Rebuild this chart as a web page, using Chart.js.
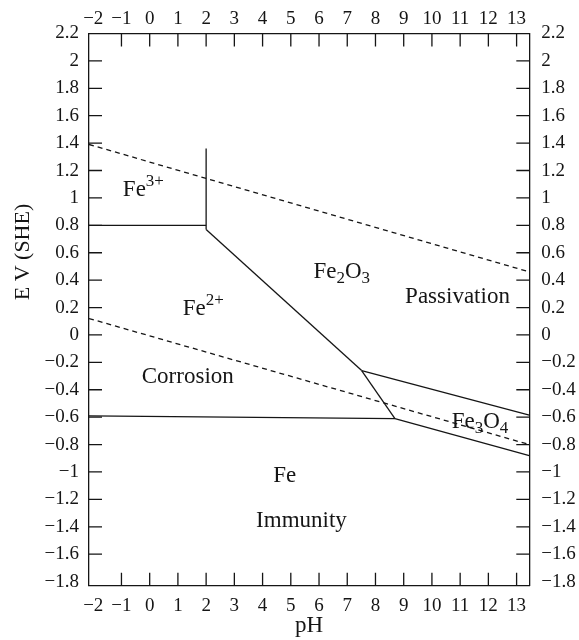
<!DOCTYPE html>
<html>
<head>
<meta charset="utf-8">
<script src="https://cdn.jsdelivr.net/npm/chart.js@4.4.1/dist/chart.umd.min.js"></script>
<style>
    body { margin: 0; background: #fff; }
    #wrap { width: 579px; height: 640px; position: relative; }
</style>
</head>
<body>
<div id="wrap"><canvas id="pourbaix"></canvas></div>
<script>
// axis ticks
var phTicks = [-2, -1, 0, 1, 2, 3, 4, 5, 6, 7, 8, 9, 10, 11, 12, 13];
var potentialTicks = [2.2, 2, 1.8, 1.6, 1.4, 1.2, 1, 0.8, 0.6, 0.4, 0.2, 0,
    -0.2, -0.4, -0.6, -0.8, -1, -1.2, -1.4, -1.6, -1.8];

// water stability lines (dashed)
var oxygenPH = [-2.15, 13.45];
var oxygenE = [1.39, 0.46];
var hydrogenPH = [-2.15, 13.45];
var hydrogenE = [0.12, -0.80];

// phase boundaries (solid)
var fe3Fe2PH = [-2.15, 2.0];
var fe3Fe2E = [0.80, 0.80];
var fe3VerticalPH = [2.0, 2.0];
var fe3VerticalE = [1.36, 0.77];
var fe2Fe2o3PH = [2.0, 7.51];
var fe2Fe2o3E = [0.77, -0.26];
var fe2o3Fe3o4PH = [7.51, 13.45];
var fe2o3Fe3o4E = [-0.26, -0.585];
var fe2Fe3o4PH = [7.51, 8.69];
var fe2Fe3o4E = [-0.26, -0.61];
var feFe2PH = [-2.15, 8.69];
var feFe2E = [-0.59, -0.61];
var feFe3o4PH = [8.69, 13.45];
var feFe3o4E = [-0.61, -0.88];

// region names: pieces of [text, kind]
var regionText = [
    [['Fe', ''], ['3+', 'sup']],
    [['Fe', ''], ['2+', 'sup']],
    [['Fe', ''], ['2', 'sub'], ['O', ''], ['3', 'sub']],
    [['Passivation', '']],
    [['Corrosion', '']],
    [['Fe', ''], ['3', 'sub'], ['O', ''], ['4', 'sub']],
    [['Fe', '']],
    [['Immunity', '']]
];
var regionPH = [-0.95, 1.17, 5.80, 9.05, -0.28, 10.70, 4.38, 3.77];
var regionE = [1.016, 0.145, 0.413, 0.231, -0.349, -0.682, -1.072, -1.399];

var serif = '"Liberation Serif", "Times New Roman", serif';
var ink = '#151515';

var toPairs = function (xs, ys) {
    var out = [];
    for (var i = 0; i < xs.length; i++) {
        out.push({x: xs[i], y: ys[i]});
    }
    return out;
};

var boundary = function (xs, ys, dashed) {
    return {
        data: toPairs(xs, ys),
        showLine: true,
        borderColor: ink,
        borderWidth: 1.3,
        borderDash: dashed ? [5, 4] : [],
        pointRadius: 0,
        fill: false
    };
};

var fmt = function (v) {
    var n = parseFloat(Number(v).toFixed(1));
    return n < 0 ? '\u2212' + Math.abs(n) : String(n);
};

var fixTicks = function (values) {
    return function (scale) {
        scale.ticks = values.map(function (v) { return {value: v}; });
    };
};

var tickFont = {family: serif, size: 19};

// inward tick marks, axis title and region names
var decorations = {
    id: 'decorations',
    afterDraw: function (chart) {
        var ctx = chart.ctx;
        var area = chart.chartArea;
        var sx = chart.scales.x;
        var sy = chart.scales.y;
        var len = 13;
        ctx.save();
        ctx.strokeStyle = ink;
        ctx.lineWidth = 1.3;
        ctx.beginPath();
        phTicks.forEach(function (v) {
            if (v <= -2) return;
            var px = sx.getPixelForValue(v);
            ctx.moveTo(px, area.bottom);
            ctx.lineTo(px, area.bottom - len);
            ctx.moveTo(px, area.top);
            ctx.lineTo(px, area.top + len);
        });
        potentialTicks.forEach(function (v) {
            if (v >= 2.2 || v <= -1.8) return;
            var py = sy.getPixelForValue(v);
            ctx.moveTo(area.left, py);
            ctx.lineTo(area.left + len, py);
            ctx.moveTo(area.right, py);
            ctx.lineTo(area.right - len, py);
        });
        ctx.stroke();

        // y title, sits above the middle of the axis in the original
        ctx.fillStyle = ink;
        ctx.save();
        ctx.translate(28.5, 252);
        ctx.rotate(-Math.PI / 2);
        ctx.font = '22px ' + serif;
        ctx.textAlign = 'center';
        ctx.textBaseline = 'alphabetic';
        ctx.fillText('E V (SHE)', 0, 0);
        ctx.restore();

        ctx.textAlign = 'left';
        ctx.textBaseline = 'alphabetic';
        regionText.forEach(function (pieces, i) {
            var x = sx.getPixelForValue(regionPH[i]);
            var y = sy.getPixelForValue(regionE[i]);
            pieces.forEach(function (p) {
                var dy = 0;
                if (p[1] === 'sup') {
                    ctx.font = '17px ' + serif;
                    dy = -10;
                } else if (p[1] === 'sub') {
                    ctx.font = '17px ' + serif;
                    dy = 5;
                } else {
                    ctx.font = '23px ' + serif;
                }
                ctx.fillText(p[0], x, y + dy);
                x += ctx.measureText(p[0]).width;
            });
        });
        ctx.restore();
    }
};

new Chart(document.getElementById('pourbaix').getContext('2d'), {
    type: 'scatter',
    data: {
        datasets: [
            boundary(oxygenPH, oxygenE, true),
            boundary(hydrogenPH, hydrogenE, true),
            boundary(fe3Fe2PH, fe3Fe2E, false),
            boundary(fe3VerticalPH, fe3VerticalE, false),
            boundary(fe2Fe2o3PH, fe2Fe2o3E, false),
            boundary(fe2o3Fe3o4PH, fe2o3Fe3o4E, false),
            boundary(fe2Fe3o4PH, fe2Fe3o4E, false),
            boundary(feFe2PH, feFe2E, false),
            boundary(feFe3o4PH, feFe3o4E, false)
        ]
    },
    options: {
        responsive: true,
        maintainAspectRatio: false,
        animation: false,
        layout: {padding: 0},
        plugins: {
            legend: {display: false},
            tooltip: {enabled: false}
        },
        scales: {
            x: {
                type: 'linear',
                position: 'bottom',
                min: -2.15,
                max: 13.45,
                afterBuildTicks: fixTicks(phTicks),
                afterFit: function (s) { s.height = 54.3; },
                grid: {display: false, drawTicks: false},
                border: {display: true, color: ink, width: 1.3},
                ticks: {
                    autoSkip: false, maxRotation: 0, padding: 9,
                    color: ink, font: tickFont, callback: fmt
                },
                title: {
                    display: true, text: 'pH', color: ink,
                    font: {family: serif, size: 23}, padding: 0
                }
            },
            x2: {
                type: 'linear',
                position: 'top',
                min: -2.15,
                max: 13.45,
                afterBuildTicks: fixTicks(phTicks),
                afterFit: function (s) { s.height = 33.5; },
                grid: {display: false, drawTicks: false},
                border: {display: true, color: ink, width: 1.3},
                ticks: {
                    autoSkip: false, maxRotation: 0, padding: 3,
                    color: ink, font: tickFont, callback: fmt
                }
            },
            y: {
                type: 'linear',
                position: 'left',
                min: -1.83,
                max: 2.2,
                afterBuildTicks: fixTicks(potentialTicks),
                afterFit: function (s) { s.width = 89; },
                grid: {display: false, drawTicks: false},
                border: {display: true, color: ink, width: 1.3},
                ticks: {
                    autoSkip: false, padding: 10,
                    color: ink, font: tickFont, callback: fmt
                }
            },
            y2: {
                type: 'linear',
                position: 'right',
                min: -1.83,
                max: 2.2,
                afterBuildTicks: fixTicks(potentialTicks),
                afterFit: function (s) { s.width = 49.7; },
                grid: {display: false, drawTicks: false},
                border: {display: true, color: ink, width: 1.3},
                ticks: {
                    autoSkip: false, padding: 12,
                    color: ink, font: tickFont, callback: fmt
                }
            }
        }
    },
    plugins: [decorations]
});
</script>
</body>
</html>
